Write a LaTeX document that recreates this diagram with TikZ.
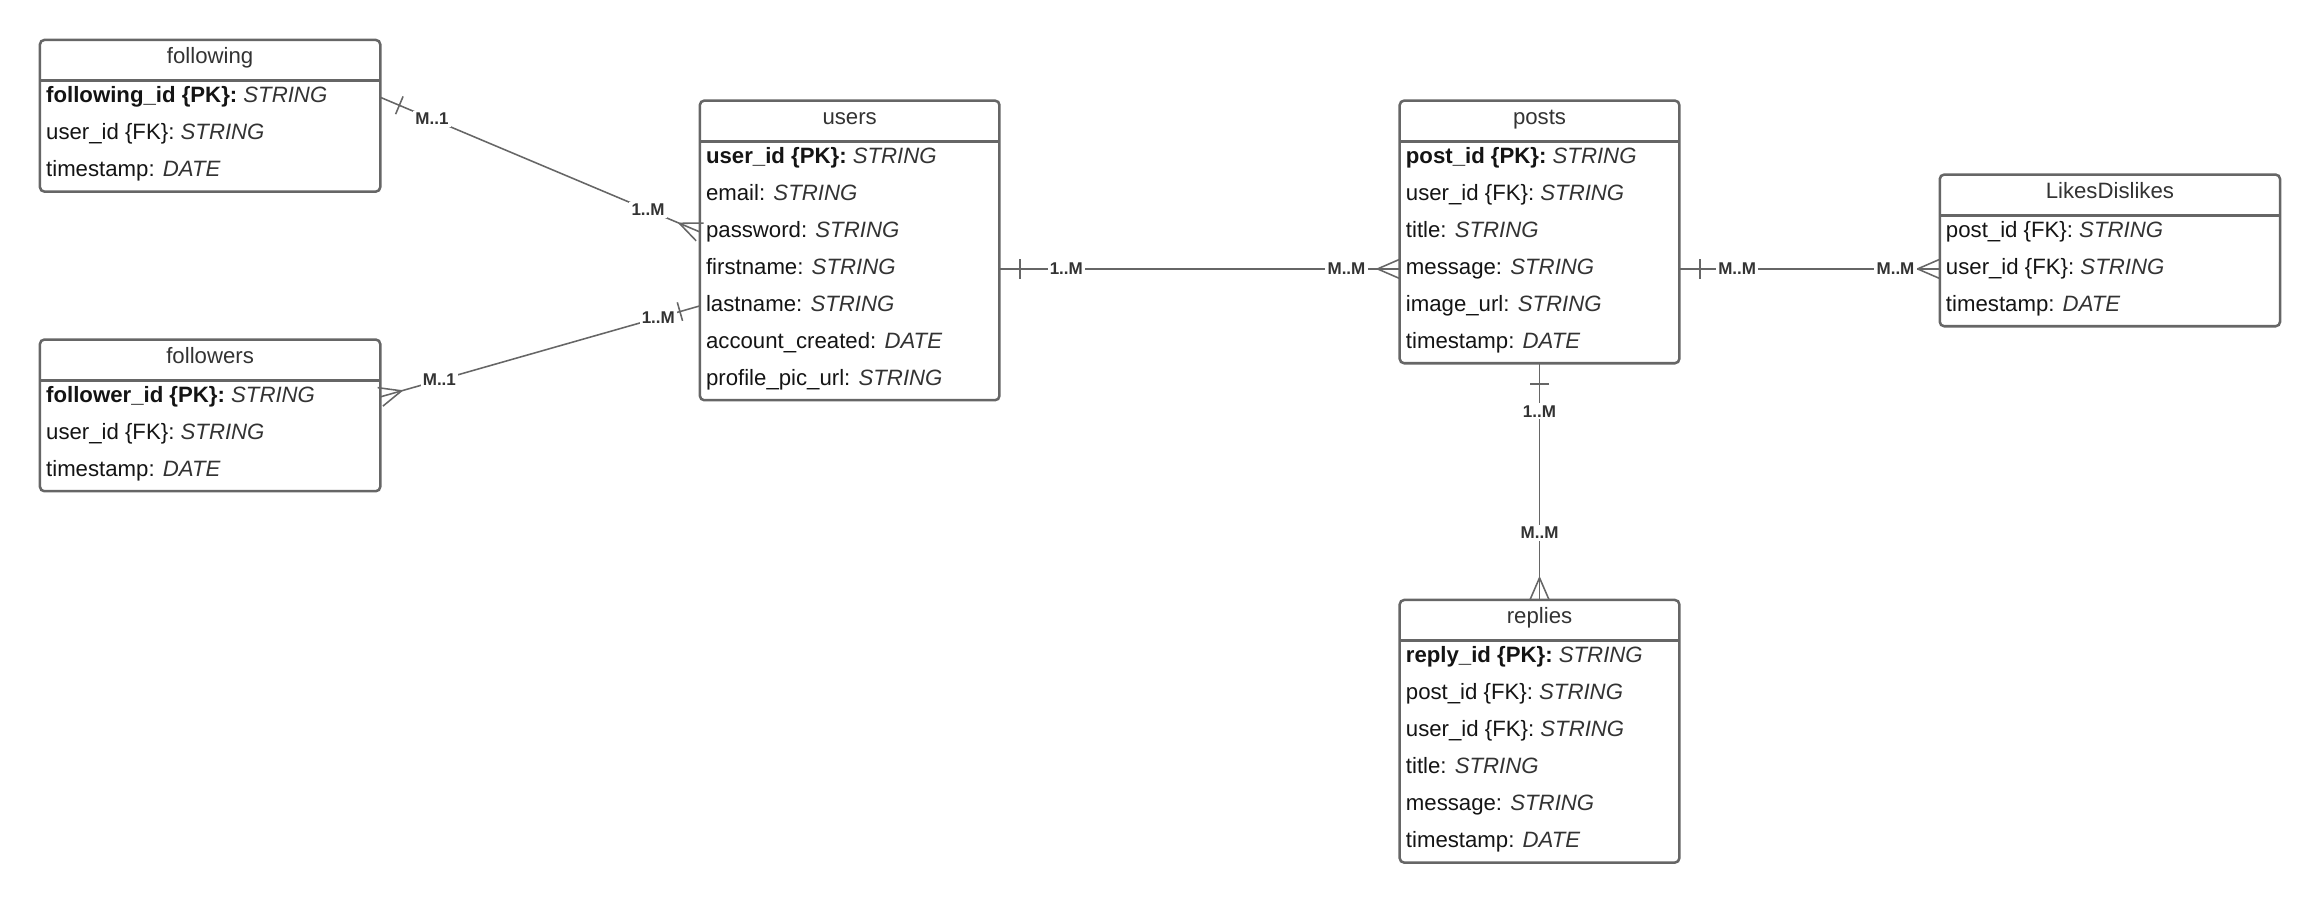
\documentclass[tikz,border=0pt]{standalone}
\usepackage{fontspec}
\setmainfont{Liberation Sans}
\usetikzlibrary{calc}
\definecolor{bordergray}{HTML}{666666}
\definecolor{linegray}{HTML}{666666}
\definecolor{txtdark}{HTML}{333333}
\definecolor{txtblack}{HTML}{141414}
\tikzset{
  tablebox/.style={draw=bordergray, line width=1.7pt, rounded corners=3pt, inner sep=0pt, outer sep=0pt, fill=white},
  tableline/.style={draw=bordergray, line width=1.7pt},
  titletext/.style={inner sep=0pt, text height=10.7pt, text depth=3.2pt, text=txtdark, font=\fontsize{15}{18}\selectfont},
  rowtext/.style={anchor=west, inner sep=0pt, text height=10.7pt, text depth=3.2pt, text=txtblack, font=\fontsize{15}{18}\selectfont},
  conn/.style={draw=linegray, line width=1.05pt},
  lbl/.style={fill=white, inner sep=1.5pt, text=txtdark, font=\fontsize{11.5}{13}\selectfont\bfseries},
}
\newcommand\typ[1]{{\color{txtdark}\itshape #1}}
\newcommand\ertable[6]{%
  \pgfmathsetmacro\erW{#3-#2}%
  \pgfmathsetmacro\erH{27.5+25*#5}%
  \node[tablebox, minimum width=\erW pt, minimum height=\erH pt, anchor=north west] (#1) at (#2,#4) {};
  \draw[tableline] ($(#1.north west)+(0,27.5)$) -- ($(#1.north east)+(0,27.5)$);
  \node[titletext] (#1-title) at ($(#1.north)+(0,12.25)$) {#6};
}
\newcommand\errow[3]{%
  \node[rowtext] (#1-#2) at ($(#1.north west)+(4,{38.75+25*#2-25})$) {#3};
}
\newcommand\crowfoot[2]{%
  \coordinate (cfapex) at ($(#1)!15pt!(#2)$);
  \draw[conn] (cfapex) -- ($(#1)!6.5pt!90:(#2)$);
  \draw[conn] (cfapex) -- ($(#1)!6.5pt!-90:(#2)$);
}
\newcommand\onebar[2]{%
  \coordinate (obmid) at ($(#1)!14pt!(#2)$);
  \draw[conn] ($(obmid)!6.5pt!90:(#2)$) -- ($(obmid)!6.5pt!-90:(#2)$);
}
\begin{document}
\begin{tikzpicture}[x=1pt,y=-1pt]
\fill[white] (0,0) rectangle (1568,610);
\useasboundingbox (0,0) rectangle (1568,610);

% following
\ertable{following}{27}{257}{27}{3}{following}
\errow{following}{1}{\textbf{following\_id \{PK\}:} \typ{STRING}}
\errow{following}{2}{user\_id \{FK\}: \typ{STRING}}
\errow{following}{3}{timestamp: \typ{DATE}}

% followers
\ertable{followers}{27}{257}{229.5}{3}{followers}
\errow{followers}{1}{\textbf{follower\_id \{PK\}:} \typ{STRING}}
\errow{followers}{2}{user\_id \{FK\}: \typ{STRING}}
\errow{followers}{3}{timestamp: \typ{DATE}}

% users
\ertable{users}{473}{675.5}{68}{7}{users}
\errow{users}{1}{\textbf{user\_id \{PK\}:} \typ{STRING}}
\errow{users}{2}{email: \typ{STRING}}
\errow{users}{3}{password: \typ{STRING}}
\errow{users}{4}{firstname: \typ{STRING}}
\errow{users}{5}{lastname: \typ{STRING}}
\errow{users}{6}{account\_created: \typ{DATE}}
\errow{users}{7}{profile\_pic\_url: \typ{STRING}}

% posts
\ertable{posts}{946}{1135}{68}{6}{posts}
\errow{posts}{1}{\textbf{post\_id \{PK\}:} \typ{STRING}}
\errow{posts}{2}{user\_id \{FK\}: \typ{STRING}}
\errow{posts}{3}{title: \typ{STRING}}
\errow{posts}{4}{message: \typ{STRING}}
\errow{posts}{5}{image\_url: \typ{STRING}}
\errow{posts}{6}{timestamp: \typ{DATE}}

% LikesDislikes
\ertable{likes}{1311}{1541}{118}{3}{LikesDislikes}
\errow{likes}{1}{post\_id \{FK\}: \typ{STRING}}
\errow{likes}{2}{user\_id \{FK\}: \typ{STRING}}
\errow{likes}{3}{timestamp: \typ{DATE}}

% replies
\ertable{replies}{946}{1135}{405.5}{6}{replies}
\errow{replies}{1}{\textbf{reply\_id \{PK\}:} \typ{STRING}}
\errow{replies}{2}{post\_id \{FK\}: \typ{STRING}}
\errow{replies}{3}{user\_id \{FK\}: \typ{STRING}}
\errow{replies}{4}{title: \typ{STRING}}
\errow{replies}{5}{message: \typ{STRING}}
\errow{replies}{6}{timestamp: \typ{DATE}}

% connector end points
\coordinate (c1a) at (following.east |- following-1);
\coordinate (c1b) at (users.west |- users-3);
\coordinate (c2a) at (followers.east |- followers-1);
\coordinate (c2b) at (users.west |- users-5);
\coordinate (c3a) at (users.east |- users-4);
\coordinate (c3b) at (posts.west |- posts-4);
\coordinate (c4a) at (posts.east |- posts-4);
\coordinate (c4b) at (likes.west |- likes-2);
\coordinate (c5a) at (posts.south);
\coordinate (c5b) at (replies.north);

% following -- users
\draw[conn] (c1a) -- (c1b);
\onebar{c1a}{c1b}
\crowfoot{c1b}{c1a}
\path (c1a) -- node[lbl, pos=0.162] (l1a) {M..1} node[lbl, pos=0.838] (l1b) {1..M} (c1b);

% followers -- users
\draw[conn] (c2a) -- (c2b);
\crowfoot{c2a}{c2b}
\onebar{c2b}{c2a}
\path (c2a) -- node[lbl, pos=0.185] (l2a) {M..1} node[lbl, pos=0.87] (l2b) {1..M} (c2b);

% users -- posts
\draw[conn] (c3a) -- (c3b);
\onebar{c3a}{c3b}
\crowfoot{c3b}{c3a}
\path (c3a) -- node[lbl, pos=0.167] (l3a) {1..M} node[lbl, pos=0.867] (l3b) {M..M} (c3b);

% posts -- LikesDislikes
\draw[conn] (c4a) -- (c4b);
\onebar{c4a}{c4b}
\crowfoot{c4b}{c4a}
\path (c4a) -- node[lbl, pos=0.222] (l4a) {M..M} node[lbl, pos=0.83] (l4b) {M..M} (c4b);

% posts -- replies
\draw[conn] (c5a) -- (c5b);
\onebar{c5a}{c5b}
\crowfoot{c5b}{c5a}
\path (c5a) -- node[lbl, pos=0.203] (l5a) {1..M} node[lbl, pos=0.716] (l5b) {M..M} (c5b);
\end{tikzpicture}
\end{document}
